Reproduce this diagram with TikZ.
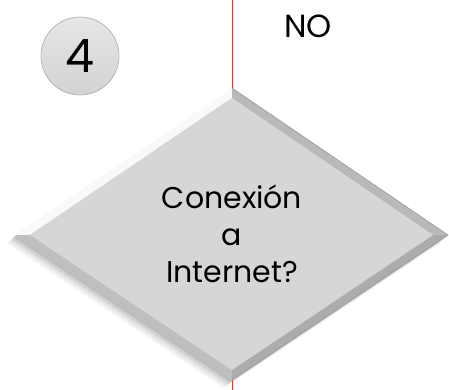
\documentclass[tikz,border=0pt]{standalone}
\usepackage{fontspec}
\setmainfont{Poppins}
\usetikzlibrary{positioning}
\definecolor{facegray}{RGB}{214,214,214}
\definecolor{flowred}{RGB}{228,52,52}

\begin{document}
\begin{tikzpicture}[x=1pt, y=-1pt]
   \useasboundingbox (0,0) rectangle (449,390);
   % corners of the decision box
   \coordinate (T) at (232,88);
   \coordinate (R) at (448,235);
   \coordinate (B) at (232,380);
   \coordinate (L) at (15,235);
   \coordinate (Ti) at (232,98);
   \coordinate (Ri) at (433,235);
   \coordinate (Bi) at (232,370);
   \coordinate (Li) at (30,235);
   % soft shadow
   \foreach \d/\o in {8/0.05,6/0.06,4/0.08,2/0.10}{
     \fill[black, opacity=\o] ([shift={(-\d,\d)}]T) -- ([shift={(-\d,\d)}]R) -- ([shift={(-\d,\d)}]B) -- ([shift={(-\d,\d)}]L) -- cycle;
   }
   % bevel faces
   \fill[white!95!gray] (L) -- (T) -- (Ti) -- (Li) -- cycle;
   \fill[gray!55] (T) -- (R) -- (Ri) -- (Ti) -- cycle;
   \fill[gray!65] (R) -- (B) -- (Bi) -- (Ri) -- cycle;
   \fill[gray!50] (B) -- (L) -- (Li) -- (Bi) -- cycle;
   \draw[gray!80, line width=0.6pt] (T) -- (R) -- (B);
   \fill[facegray] (Ti) -- (Ri) -- (Bi) -- (Li) -- cycle;
   \begin{scope}[every node/.style={text=black, inner sep=0pt}]
    \node[circle, draw=gray!65, line width=0.6pt, top color=gray!20, bottom color=gray!35,
          minimum size=78pt, font=\fontsize{46}{46}\selectfont] (n4) at (80,56) {4};
    \node[font=\fontsize{32}{32}\selectfont] (no) at (308,26) {NO};
    \node[align=center, font=\fontsize{30}{37}\selectfont] (q) at (232,234) {Conexión\\a\\Internet?};
   \end{scope}
   % flow line
   \coordinate (in) at (232,0);
   \coordinate (out) at (232,390);
   \begin{scope}[line width=1pt]
    \draw[flowred] (in) -- (T);
    \draw[flowred] (B) -- (out);
   \end{scope}
\end{tikzpicture}
\end{document}
